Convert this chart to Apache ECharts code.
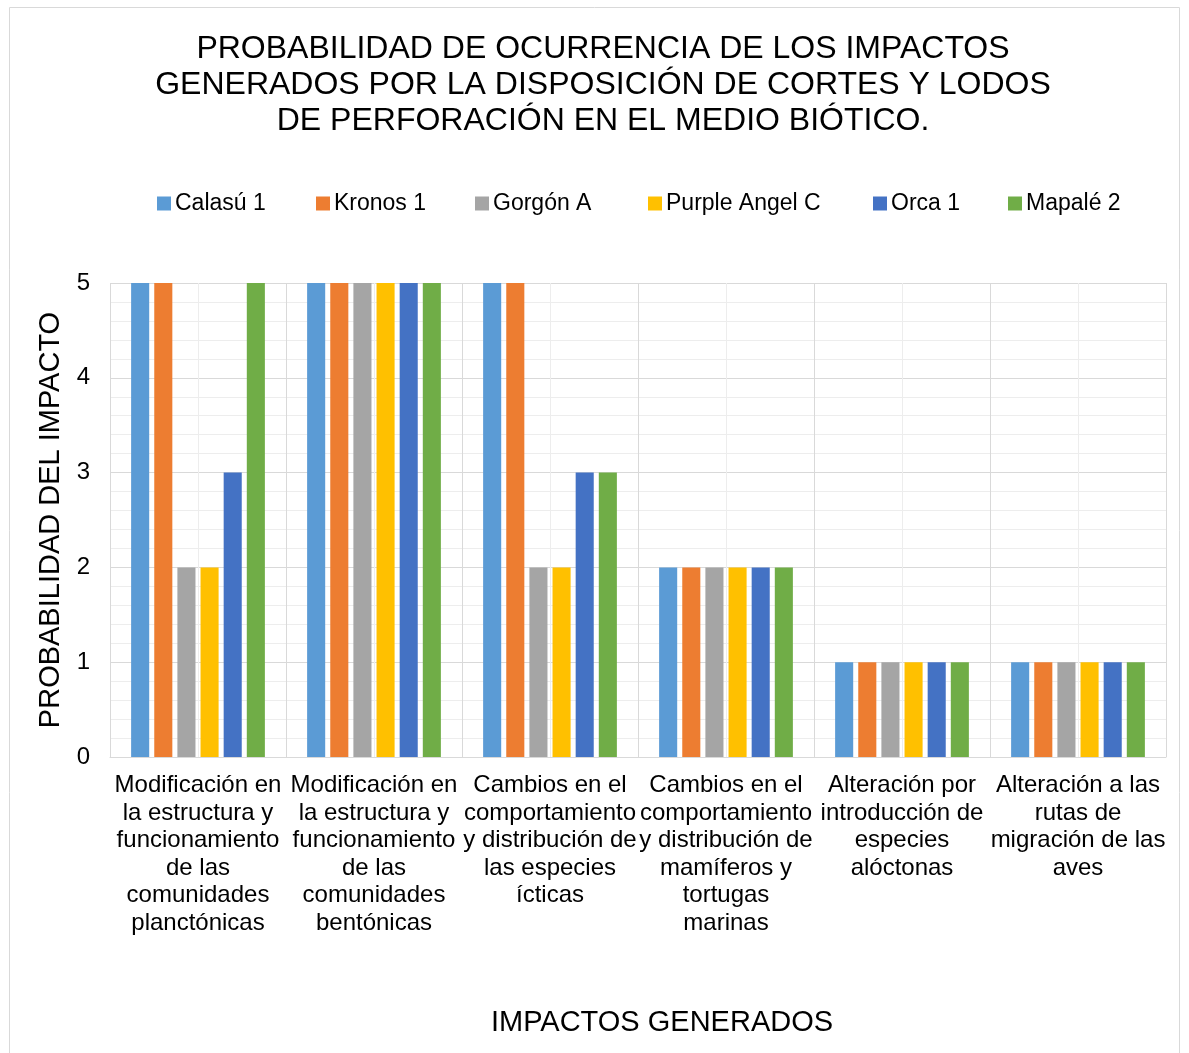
<!DOCTYPE html>
<html><head><meta charset="utf-8">
<script src="https://cdn.jsdelivr.net/npm/echarts@6/dist/echarts.min.js"></script>
<style>html,body{margin:0;padding:0;background:#fff}#c{width:1189px;height:1053px}</style>
</head><body><div id="c"></div>
<script>
const categories = [
  "Modificación en\nla estructura y\nfuncionamiento\nde las\ncomunidades\nplanctónicas",
  "Modificación en\nla estructura y\nfuncionamiento\nde las\ncomunidades\nbentónicas",
  "Cambios en el\ncomportamiento\ny distribución de\nlas especies\nícticas",
  "Cambios en el\ncomportamiento\ny distribución de\nmamíferos y\ntortugas\nmarinas",
  "Alteración por\nintroducción de\nespecies\nalóctonas",
  "Alteración a las\nrutas de\nmigración de las\naves"
];
const seriesNames = ["Calasú 1","Kronos 1","Gorgón A","Purple Angel C","Orca 1","Mapalé 2"];
const calasu = [5,5,5,2,1,1];
const kronos = [5,5,5,2,1,1];
const gorgon = [2,5,2,2,1,1];
const purple = [2,5,2,2,1,1];
const orca   = [3,5,3,2,1,1];
const mapale = [5,5,3,2,1,1];
const yTicks = [0,1,2,3,4,5];

const values = [calasu,kronos,gorgon,purple,orca,mapale];
const colors = ["#5B9BD5","#ED7D31","#A5A5A5","#FFC000","#4472C4","#70AD47"];
const legendLeft = [157,316,475,648,873,1008];
const font = "Liberation Sans, Arial, sans-serif";
const ink = "#000";

const chart = echarts.init(document.getElementById('c'));
chart.setOption({
  animation:false,
  textStyle:{fontFamily:font},
  title:{
    text:"PROBABILIDAD DE OCURRENCIA DE LOS IMPACTOS\nGENERADOS POR LA DISPOSICIÓN DE CORTES Y LODOS\nDE PERFORACIÓN EN EL MEDIO BIÓTICO.",
    left:598, textAlign:'center', top:26,
    textStyle:{fontSize:32,fontWeight:'normal',color:ink,lineHeight:36,fontFamily:font}
  },
  legend: seriesNames.map((n,i)=>({
    data:[n], left:legendLeft[i], top:192, padding:0, itemWidth:14, itemHeight:14, itemGap:5,
    icon:'rect', textStyle:{fontSize:23,color:ink,fontFamily:font,padding:[0,0,0,-1]}
  })),
  graphic:[
    {type:'rect',shape:{x:9.5,y:7.5,width:1170,height:1060},style:{fill:'none',stroke:'#d9d9d9',lineWidth:1},z:-10},
    {type:'text',style:{text:"IMPACTOS GENERADOS",fontSize:29,fill:ink,fontFamily:font,x:662,y:1023,textAlign:'center',textVerticalAlign:'middle'}}
  ],
  grid:{left:110,right:23,top:283,bottom:296},
  xAxis:[
    {type:'category',data:categories,boundaryGap:true,z:2,
     axisLine:{show:true,lineStyle:{color:'#d9d9d9',width:1}},
     axisTick:{show:false},
     splitLine:{show:true,lineStyle:{color:'#d9d9d9',width:1}},
     axisLabel:{interval:0,fontSize:24,lineHeight:27.5,color:ink,margin:15,fontFamily:font}},
    {type:'value',min:0,max:12,interval:1,z:0,show:true,
     axisLine:{show:false},axisTick:{show:false},axisLabel:{show:false},
     splitLine:{show:true,lineStyle:{color:'#ededed',width:1}}}
  ],
  yAxis:{type:'value',min:0,max:5,interval:1,
    name:"PROBABILIDAD DEL IMPACTO",nameLocation:'middle',nameGap:43,
    nameTextStyle:{fontSize:29,color:ink,fontFamily:font},
    axisLine:{show:false},axisTick:{show:false},
    axisLabel:{fontSize:24,color:ink,margin:20,fontFamily:font},
    splitLine:{show:true,lineStyle:{color:'#d9d9d9',width:1}},
    minorTick:{show:false,splitNumber:5},
    minorSplitLine:{show:true,lineStyle:{color:'#ededed',width:1}}
  },
  series: seriesNames.map((n,i)=>({
    name:n,type:'bar',xAxisIndex:0,data:values[i],
    itemStyle:{color:colors[i]},barGap:'28%',barCategoryGap:'24%'
  }))
});
</script></body></html>
